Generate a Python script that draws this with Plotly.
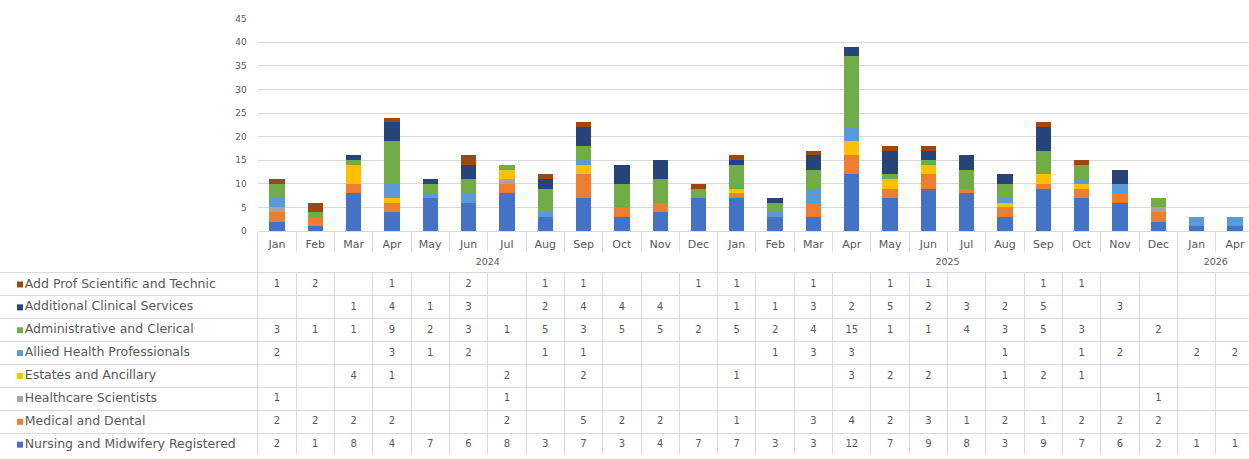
import plotly.graph_objects as go

W, H = 1249, 459

years = ["2024"] * 12 + ["2025"] * 12 + ["2026"] * 2
months = ["Jan", "Feb", "Mar", "Apr", "May", "Jun", "Jul", "Aug", "Sep", "Oct", "Nov", "Dec"] * 2 + ["Jan", "Apr"]

series_names = [
    "Add Prof Scientific and Technic",
    "Additional Clinical Services",
    "Administrative and Clerical",
    "Allied Health Professionals",
    "Estates and Ancillary",
    "Healthcare Scientists",
    "Medical and Dental",
    "Nursing and Midwifery Registered",
]

N = None
add_prof = [1, 2, N, 1, N, 2, N, 1, 1, N, N, 1, 1, N, 1, N, 1, 1, N, N, 1, 1, N, N, N, N]
additional_clinical = [N, N, 1, 4, 1, 3, N, 2, 4, 4, 4, N, 1, 1, 3, 2, 5, 2, 3, 2, 5, N, 3, N, N, N]
admin_clerical = [3, 1, 1, 9, 2, 3, 1, 5, 3, 5, 5, 2, 5, 2, 4, 15, 1, 1, 4, 3, 5, 3, N, 2, N, N]
allied_health = [2, N, N, 3, 1, 2, N, 1, 1, N, N, N, N, 1, 3, 3, N, N, N, 1, N, 1, 2, N, 2, 2]
estates = [N, N, 4, 1, N, N, 2, N, 2, N, N, N, 1, N, N, 3, 2, 2, N, 1, 2, 1, N, N, N, N]
healthcare_sci = [1, N, N, N, N, N, 1, N, N, N, N, N, N, N, N, N, N, N, N, N, N, N, N, 1, N, N]
medical_dental = [2, 2, 2, 2, N, N, 2, N, 5, 2, 2, N, 1, N, 3, 4, 2, 3, 1, 2, 1, 2, 2, 2, N, N]
nursing = [2, 1, 8, 4, 7, 6, 8, 3, 7, 3, 4, 7, 7, 3, 3, 12, 7, 9, 8, 3, 9, 7, 6, 2, 1, 1]

series_values = [add_prof, additional_clinical, admin_clerical, allied_health,
                 estates, healthcare_sci, medical_dental, nursing]
series_colors = ["#9E480E", "#264478", "#70AD47", "#5B9BD5",
                 "#FFC000", "#A5A5A5", "#ED7D31", "#4472C4"]

y_ticks = [0, 5, 10, 15, 20, 25, 30, 35, 40, 45]

TXT = "#595959"
GRID = "#D9D9D9"
FONT = "DejaVu Sans"

# geometry (paper fractions)
x_left_px = 257.8
col_w = 38.32
x0 = x_left_px / W
x_right = 25.5 - (x_left_px + 26 * col_w - W) / col_w
bar_bottom = (H - 231) / H
bar_top = (H - 14) / H
tbl_top_px = 274
tbl_top = (H - tbl_top_px) / H
row_h = 23.4
tbl_rows_visible = (H - tbl_top_px) / row_h

# column index positions and year groups derived from the category lists
cols = list(range(len(months)))
year_groups = []
for i, y in enumerate(years):
    if not year_groups or year_groups[-1][0] != y:
        year_groups.append([y, i, i])
    else:
        year_groups[-1][2] = i
year_centers = [(a + b) / 2 for _, a, b in year_groups]
year_labels = [g[0] for g in year_groups]
year_bounds = [a - 0.5 for _, a, _ in year_groups] + [year_groups[-1][2] + 0.5]
month_bounds = [i - 0.5 for i in cols] + [cols[-1] + 0.5]

fig = go.Figure()

# stacked bars: bottom to top = reverse of table order
for name, vals, col in reversed(list(zip(series_names, series_values, series_colors))):
    fig.add_trace(go.Bar(
        x=cols, y=vals, name=name, marker=dict(color=col, line=dict(width=0)),
        xaxis="x", yaxis="y", showlegend=False,
    ))

# invisible anchor trace so the year-label axis is drawn
fig.add_trace(go.Scatter(
    x=year_centers, y=[0] * len(year_centers), mode="markers",
    marker=dict(opacity=0, size=1), xaxis="x3", yaxis="y",
    showlegend=False, hoverinfo="skip",
))

# table cell values (row index = position in series_names)
for r, (name, vals) in enumerate(zip(series_names, series_values)):
    xs = [i for i, v in enumerate(vals) if v is not None]
    fig.add_trace(go.Scatter(
        x=xs, y=[r] * len(xs), text=[str(vals[i]) for i in xs], mode="text",
        textfont=dict(family=FONT, size=10, color=TXT),
        xaxis="x2", yaxis="y2", showlegend=False, hoverinfo="skip",
    ))

# legend keys + row labels
fig.add_trace(go.Scatter(
    x=[-0.5 - (x_left_px - 20) / col_w] * len(series_names), y=list(range(len(series_names))),
    mode="markers+text", text=series_names, textposition="middle right",
    marker=dict(symbol="square", size=6, color=series_colors),
    textfont=dict(family=FONT, size=12.5, color=TXT),
    xaxis="x2", yaxis="y2", showlegend=False, hoverinfo="skip",
))

fig.update_layout(
    width=W, height=H, margin=dict(l=0, r=0, t=0, b=0),
    paper_bgcolor="white", plot_bgcolor="white",
    barmode="stack", bargap=0.6,
    font=dict(family=FONT, color=TXT, size=10),
    # bar axis + month labels with separators
    xaxis=dict(
        domain=[x0, 1], range=[-0.5, x_right], anchor="y",
        showgrid=False, zeroline=False, showline=True, linecolor=GRID,
        tickvals=cols, ticktext=months, ticks="",
        tickfont=dict(family=FONT, size=11, color=TXT), ticklabelstandoff=3,
        minor=dict(tickvals=month_bounds, ticks="outside", ticklen=20, tickcolor=GRID, showgrid=False),
    ),
    # year labels with dividers
    xaxis3=dict(
        overlaying="x", anchor="y", side="bottom", range=[-0.5, x_right],
        showgrid=False, zeroline=False, showline=False,
        tickvals=year_centers, ticktext=year_labels, ticks="",
        tickfont=dict(family=FONT, size=9.5, color=TXT), ticklabelstandoff=24,
        minor=dict(tickvals=year_bounds, ticks="outside", ticklen=43, tickcolor=GRID, showgrid=False),
    ),
    yaxis=dict(
        domain=[bar_bottom, bar_top], range=[0, 45], tickvals=y_ticks,
        showgrid=True, gridcolor=GRID, zeroline=False, showline=False,
        tickfont=dict(family=FONT, size=9, color=TXT), ticklabelstandoff=10,
    ),
    xaxis2=dict(
        domain=[0, 1], range=[-0.5 - x_left_px / col_w, x_right], anchor="y2",
        tickvals=month_bounds, showticklabels=False, ticks="",
        showgrid=True, gridcolor=GRID, zeroline=False,
        showline=True, side="top", linecolor=GRID,
    ),
    yaxis2=dict(
        domain=[0, tbl_top],
        range=[tbl_rows_visible - 0.5, -0.5],
        tickvals=[i - 0.5 for i in range(len(series_names) + 1)],
        showgrid=True, gridcolor=GRID, showticklabels=False, ticks="", zeroline=False,
    ),
)

fig.write_html("out.html")
